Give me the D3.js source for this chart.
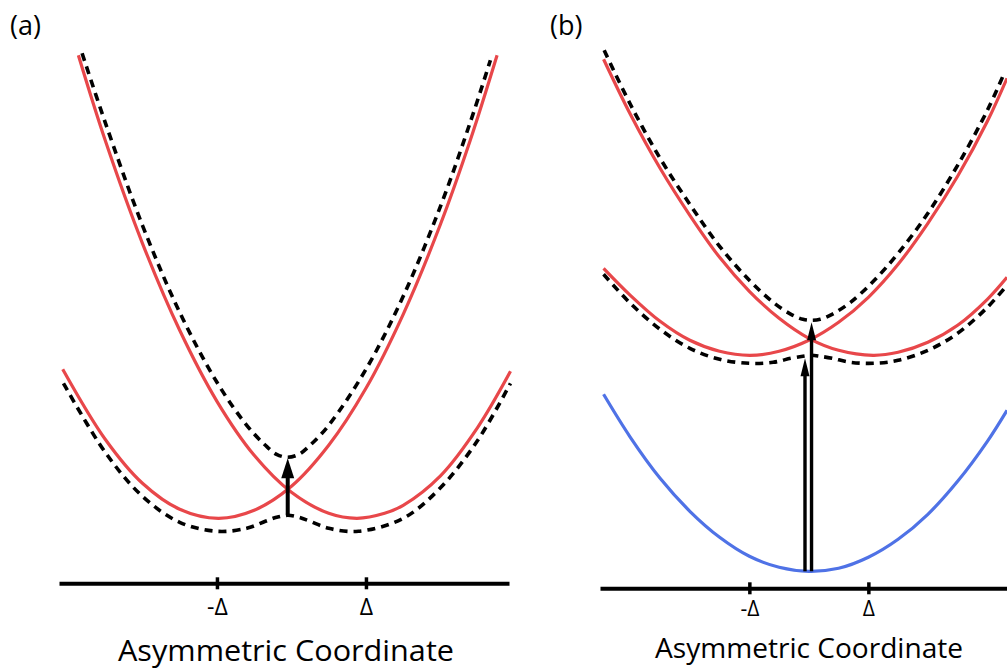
<!DOCTYPE html>
<html>
<head>
<meta charset="utf-8">
<script src="https://cdn.jsdelivr.net/npm/d3@7"></script>
<style>
  html, body { margin: 0; padding: 0; background: #fff; }
  svg { display: block; }
  text { font-family: "Open Sans", sans-serif; fill: #000; }
</style>
</head>
<body>
<svg id="fig" width="1007" height="670"></svg>
<script>
// Coordinate axis: ticks at -Δ and +Δ
const tickValues = [-1, 1];
const tickLabels = ["-Δ", "Δ"];
const axisTitle = "Asymmetric Coordinate";
const panelLabels = ["(a)", "(b)"];

// ---- Panel (a): energies [coordinate, energy] ----
// diabatic well centred near -Δ
const aWellLeft = [[-3.07,2.14],[-2.5,1.44],[-2.0,1.00],[-1.5,0.74],[-0.98,0.65],[-0.5,0.73],
  [0,0.97],[0.5,1.38],[1.0,1.95],[1.5,2.69],[2.0,3.59],[2.4,4.43],[2.76,5.28]];
// diabatic well centred near +Δ
const aWellRight = [[-2.86,5.28],[-2.5,4.43],[-2.0,3.40],[-1.5,2.53],[-1.0,1.82],[-0.5,1.28],
  [0,0.91],[0.5,0.70],[0.88,0.65],[1.25,0.70],[1.5,0.78],[2.0,1.075],[2.5,1.56],[2.94,2.12]];
// coupled surfaces
const aLowerSurface = [[-3.06,2.00],[-2.5,1.31],[-2.0,0.87],[-1.5,0.61],[-1.0,0.52],[-0.6,0.55],
  [-0.35,0.62],[-0.2,0.66],[-0.05,0.68],[0.1,0.66],[0.25,0.62],[0.5,0.55],[0.9,0.52],
  [1.5,0.65],[2.0,0.955],[2.5,1.43],[2.94,2.00]];
const aUpperSurface = [[-2.81,5.30],[-2.5,4.61],[-2.0,3.58],[-1.5,2.71],[-1.0,2.01],[-0.6,1.58],
  [-0.35,1.38],[-0.2,1.29],[-0.05,1.26],[0.1,1.29],[0.25,1.38],[0.5,1.58],[1.0,2.14],
  [1.5,2.87],[2.0,3.77],[2.4,4.61],[2.67,5.23]];
// vertical transitions [coordinate, from energy, to energy]
const aTransitions = [[-0.05, 0.68, 1.25]];

// ---- Panel (b) ----
const bGround = [[-3.45,1.94],[-3.0,1.51],[-2.5,1.10],[-2.0,0.77],[-1.5,0.51],[-1.0,0.32],
  [-0.5,0.21],[0,0.17],[0.5,0.20],[1.0,0.31],[1.5,0.49],[2.0,0.74],[2.5,1.07],[3.0,1.47],[3.33,1.78]];
const bWellLeft = [[-3.45,3.20],[-3.0,2.93],[-2.5,2.67],[-2.0,2.48],[-1.5,2.37],[-0.99,2.33],
  [-0.5,2.37],[0,2.48],[0.5,2.66],[1.0,2.91],[1.5,3.24],[2.0,3.65],[2.5,4.12],[3.0,4.67],[3.33,5.10]];
const bWellRight = [[-3.45,5.29],[-3.0,4.74],[-2.5,4.20],[-2.0,3.73],[-1.5,3.31],[-1.0,2.97],
  [-0.5,2.70],[0,2.50],[0.5,2.38],[1.08,2.33],[1.5,2.36],[2.0,2.46],[2.5,2.63],[3.0,2.89],[3.33,3.11]];
const bLowerSurface = [[-3.45,3.14],[-3.0,2.85],[-2.5,2.59],[-2.0,2.40],[-1.5,2.29],[-1.0,2.25],
  [-0.6,2.26],[-0.3,2.30],[-0.1,2.32],[0.045,2.33],[0.19,2.32],[0.39,2.30],[0.7,2.26],
  [1.1,2.25],[1.5,2.28],[2.0,2.38],[2.5,2.55],[3.0,2.81],[3.33,3.03]];
const bUpperSurface = [[-3.44,5.38],[-3.0,4.84],[-2.5,4.30],[-2.0,3.84],[-1.5,3.42],[-1.0,3.08],
  [-0.6,2.86],[-0.3,2.74],[-0.1,2.69],[0.045,2.68],[0.19,2.69],[0.39,2.74],[0.7,2.86],
  [1.1,3.08],[1.5,3.35],[2.0,3.75],[2.5,4.23],[3.0,4.78],[3.29,5.16]];
const bTransitions = [[-0.065, 0.17, 2.30], [0.045, 0.17, 2.66]];

// ---- drawing ----
const RED = "#e8474a", BLUE = "#4f72e6";
const svg = d3.select("#fig");

function drawPanel(cfg) {
  const x = d3.scaleLinear().domain(cfg.xDomain).range(cfg.xRange);
  const y = d3.scaleLinear().domain(cfg.yDomain).range(cfg.yRange);
  const g = svg.append("g");
  const line = d3.line().x(d => x(d[0])).y(d => y(d[1])).curve(d3.curveCatmullRom.alpha(0.5));

  cfg.solid.forEach(s => {
    g.append("path").attr("d", line(s.data)).attr("fill", "none")
      .attr("stroke", s.color).attr("stroke-width", 3.2);
  });
  cfg.dashed.forEach(s => {
    g.append("path").attr("d", line(s)).attr("fill", "none")
      .attr("stroke", "#000").attr("stroke-width", 3.6)
      .attr("stroke-dasharray", "8,6");
  });

  // transition arrows
  cfg.transitions.forEach(t => {
    const px = x(t[0]), y0 = y(t[1]), y1 = y(t[2]);
    g.append("line").attr("x1", px).attr("x2", px).attr("y1", y0).attr("y2", y1 + cfg.headLen - 2)
      .attr("stroke", "#000").attr("stroke-width", cfg.shaft);
    g.append("path")
      .attr("d", `M${px},${y1}L${px - cfg.headHalf},${y1 + cfg.headLen}L${px + cfg.headHalf},${y1 + cfg.headLen}Z`)
      .attr("fill", "#000");
  });

  // coordinate axis
  const axis = d3.axisBottom(x).tickValues(tickValues)
    .tickFormat((d, i) => tickLabels[i]).tickSizeOuter(0);
  const ag = g.append("g").attr("transform", `translate(0,${y(0)})`).call(axis);
  ag.select(".domain").attr("stroke", "#000").attr("stroke-width", 4);
  ag.selectAll(".tick line").attr("y1", -6).attr("y2", 6)
    .attr("stroke", "#000").attr("stroke-width", 3.5);
  ag.selectAll(".tick text").attr("y", cfg.tickLabelOffset).attr("dy", 0)
    .attr("font-family", '"Open Sans", sans-serif').attr("font-size", cfg.tickFont).attr("fill", "#000");

  g.append("text").attr("x", cfg.titleX).attr("y", cfg.titleY)
    .attr("text-anchor", "middle").attr("font-size", cfg.titleFont)
    .attr("textLength", cfg.titleWidth).attr("lengthAdjust", "spacingAndGlyphs")
    .text(axisTitle);

  g.append("text").attr("x", cfg.labelX).attr("y", 35)
    .attr("font-size", 27).text(cfg.label);
}

drawPanel({
  label: panelLabels[0], labelX: 10,
  xDomain: [-3.12, 2.92], xRange: [59, 509],
  yDomain: [0, 5.3], yRange: [583.3, 53.3],
  solid: [{data: aWellLeft, color: RED}, {data: aWellRight, color: RED}],
  dashed: [aLowerSurface, aUpperSurface],
  transitions: aTransitions, headLen: 20, headHalf: 6.5, shaft: 4,
  tickLabelOffset: 32, tickFont: 23,
  titleX: 286, titleY: 661, titleFont: 29, titleWidth: 336
});

drawPanel({
  label: panelLabels[1], labelX: 550,
  xDomain: [-3.51, 3.33], xRange: [600, 1007],
  yDomain: [0, 5.4], yRange: [588.3, 48.3],
  solid: [{data: bGround, color: BLUE}, {data: bWellLeft, color: RED}, {data: bWellRight, color: RED}],
  dashed: [bLowerSurface, bUpperSurface],
  transitions: bTransitions, headLen: 18, headHalf: 4.5, shaft: 3.4,
  tickLabelOffset: 28, tickFont: 21,
  titleX: 809, titleY: 658, titleFont: 26.5, titleWidth: 308
});
</script>
</body>
</html>
